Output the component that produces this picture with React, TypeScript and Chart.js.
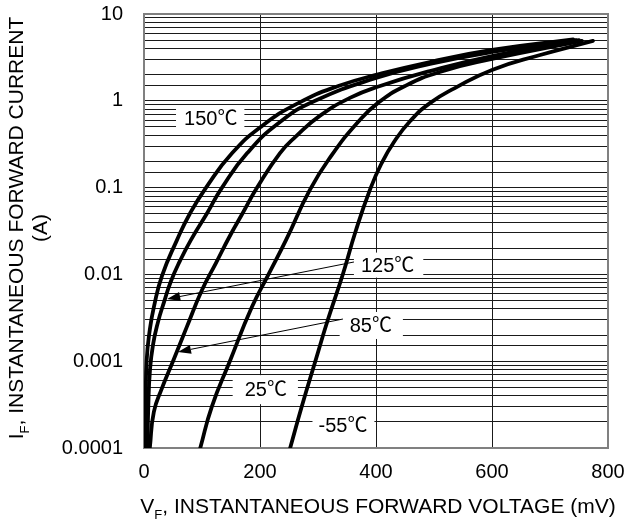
import React, { useEffect, useRef } from "react";
import { Chart, registerables } from "chart.js";

Chart.register(...registerables);

// ---- data (V in mV, I in A) ----
const v150 = [2, 3, 4.5, 10, 17, 31, 57, 79, 107, 152, 203, 266, 335, 407, 493, 600, 740];
const i150 = [0.0001, 0.0003, 0.001, 0.0023, 0.0042, 0.0096, 0.025, 0.05, 0.1, 0.25, 0.51, 0.94, 1.48, 2.04, 2.8, 3.85, 5.1];

const v125 = [6, 7.4, 10.3, 15.5, 24, 34.5, 46.6, 62, 81, 109, 134.5, 178, 234.5, 295, 400, 493, 600, 745];
const i125 = [0.0001, 0.0003, 0.00079, 0.00154, 0.0028, 0.0048, 0.0084, 0.0143, 0.025, 0.051, 0.1, 0.25, 0.57, 1.0, 1.83, 2.66, 3.65, 5.0];

const v85 = [10, 17, 31, 50, 74, 100, 124, 148, 171, 195, 234.5, 262, 303, 355, 407, 493, 600, 750];
const i85 = [0.0001, 0.00026, 0.00049, 0.001, 0.0025, 0.0066, 0.0135, 0.0277, 0.052, 0.1, 0.25, 0.39, 0.67, 1.08, 1.48, 2.2, 3.28, 5.0];

const v25 = [97, 117, 148, 186, 214, 245, 286, 324, 369, 403, 450, 510, 600, 755];
const i25 = [0.0001, 0.0003, 0.001, 0.0042, 0.0098, 0.025, 0.094, 0.238, 0.57, 0.94, 1.48, 2.15, 3.03, 4.9];

const vM55 = [252, 272, 295, 317, 343, 365, 390, 409, 431, 459, 493, 536, 600, 683, 774];
const iM55 = [0.0001, 0.0003, 0.00098, 0.003, 0.0101, 0.0316, 0.096, 0.187, 0.335, 0.585, 0.94, 1.4, 2.27, 3.37, 4.9];

const seriesNames = ["150℃", "125℃", "85℃", "25℃", "-55℃"];
const xTickValues = [0, 200, 400, 600, 800];
const yDecades = [0.0001, 0.001, 0.01, 0.1, 1, 10];

const FAMILY = "'Liberation Sans', Arial, 'Noto Sans CJK SC', sans-serif";

// label placements (data coordinates)
const labelSpecs = [
  { text: seriesNames[0], v: 115, i: 0.62, padL: 8, padR: 7, h: 26 },
  { text: seriesNames[1], v: 420, i: 0.0128, padL: 7, padR: 9, h: 25 },
  { text: seriesNames[2], v: 391, i: 0.00258, padL: 10, padR: 11, h: 27 },
  { text: seriesNames[3], v: 210, i: 0.00047, padL: 12, padR: 11, h: 29 },
  { text: seriesNames[4], v: 343, i: 0.000184, padL: 6, padR: 7, h: 30 },
];
const arrowSpecs = [
  { v0: 362, i0: 0.0139, v1: 40, i1: 0.0052 },
  { v0: 343, i0: 0.00306, v1: 58.6, i1: 0.00128 },
];

function pts(vs: number[], is: number[]) {
  return vs.map((v, k) => ({ x: v, y: is[k] }));
}

function drawSubText(
  ctx: CanvasRenderingContext2D,
  main: string,
  sub: string,
  rest: string,
  size: number
) {
  const big = `${size}px ${FAMILY}`;
  const small = `${Math.round(size * 0.62)}px ${FAMILY}`;
  ctx.font = big;
  const w1 = ctx.measureText(main).width;
  const w3 = ctx.measureText(rest).width;
  ctx.font = small;
  const w2 = ctx.measureText(sub).width;
  const total = w1 + w2 + w3;
  let x = -total / 2;
  ctx.textBaseline = "alphabetic";
  ctx.textAlign = "left";
  ctx.font = big;
  ctx.fillText(main, x, 0);
  x += w1;
  ctx.font = small;
  ctx.fillText(sub, x, size * 0.28);
  x += w2;
  ctx.font = big;
  ctx.fillText(rest, x, 0);
}

const decorPlugin = {
  id: "decor",
  beforeDatasetsDraw(chart: any) {
    const { ctx, chartArea: a, scales } = chart;
    const x = scales.x;
    const y = scales.y;
    ctx.save();
    ctx.strokeStyle = "#808080";
    ctx.lineWidth = 2;
    ctx.strokeRect(a.left, a.top, a.right - a.left, a.bottom - a.top);
    ctx.font = `20px ${FAMILY}`;
    ctx.fillStyle = "#ffffff";
    labelSpecs.forEach((l) => {
      const cx = x.getPixelForValue(l.v);
      const cy = y.getPixelForValue(l.i);
      const w = ctx.measureText(l.text).width;
      ctx.fillRect(cx - w / 2 - l.padL, cy - l.h / 2, w + l.padL + l.padR, l.h);
    });
    ctx.restore();
  },
  afterDatasetsDraw(chart: any) {
    const { ctx, scales } = chart;
    const x = scales.x;
    const y = scales.y;
    ctx.save();
    ctx.fillStyle = "#000";
    ctx.font = `20px ${FAMILY}`;
    ctx.textAlign = "center";
    ctx.textBaseline = "middle";
    labelSpecs.forEach((l) => {
      ctx.fillText(l.text, x.getPixelForValue(l.v), y.getPixelForValue(l.i) + 1);
    });
    ctx.strokeStyle = "#000";
    ctx.lineWidth = 1;
    arrowSpecs.forEach((s) => {
      const x0 = x.getPixelForValue(s.v0);
      const y0 = y.getPixelForValue(s.i0);
      const x1 = x.getPixelForValue(s.v1);
      const y1 = y.getPixelForValue(s.i1);
      const ang = Math.atan2(y1 - y0, x1 - x0);
      const len = 13;
      const hw = 4.5;
      const bx = x1 - Math.cos(ang) * len;
      const by = y1 - Math.sin(ang) * len;
      ctx.beginPath();
      ctx.moveTo(x0, y0);
      ctx.lineTo(bx, by);
      ctx.stroke();
      ctx.beginPath();
      ctx.moveTo(x1, y1);
      ctx.lineTo(bx - Math.sin(ang) * hw, by + Math.cos(ang) * hw);
      ctx.lineTo(bx + Math.sin(ang) * hw, by - Math.cos(ang) * hw);
      ctx.closePath();
      ctx.fill();
    });
    ctx.restore();
  },
  afterDraw(chart: any) {
    const { ctx, chartArea: a } = chart;
    ctx.save();
    ctx.fillStyle = "#000";
    // x title
    ctx.save();
    ctx.translate((a.left + a.right) / 2 + 2, 513);
    drawSubText(ctx, "V", "F", ", INSTANTANEOUS FORWARD VOLTAGE (mV)", 21);
    ctx.restore();
    // y title
    const cy = (a.top + a.bottom) / 2 - 3;
    ctx.save();
    ctx.translate(23, cy);
    ctx.rotate(-Math.PI / 2);
    drawSubText(ctx, "I", "F", ", INSTANTANEOUS FORWARD CURRENT", 21);
    ctx.restore();
    ctx.save();
    ctx.translate(47, cy);
    ctx.rotate(-Math.PI / 2);
    ctx.font = `21px ${FAMILY}`;
    ctx.textAlign = "center";
    ctx.textBaseline = "alphabetic";
    ctx.fillText("(A)", 0, 0);
    ctx.restore();
    ctx.restore();
  },
};

function fmtDecade(v: number): string {
  const e = Math.round(Math.log10(v));
  if (Math.abs(Math.log10(v) - e) > 1e-6) return "";
  const d = yDecades.find((t) => Math.abs(Math.log10(t) - e) < 1e-6);
  if (d === undefined) return "";
  return e >= 0 ? String(d) : d.toFixed(-e);
}

export default function App() {
  const ref = useRef<HTMLCanvasElement | null>(null);
  useEffect(() => {
    if (!ref.current) return;
    const lineStyle = {
      borderColor: "#000",
      borderWidth: 3.8,
      borderJoinStyle: "round" as const,
      borderCapStyle: "round" as const,
      pointRadius: 0,
      fill: false,
      tension: 0.5,
    };
    const chart = new Chart(ref.current, {
      type: "line",
      data: {
        datasets: [
          { label: seriesNames[0], data: pts(v150, i150), ...lineStyle },
          { label: seriesNames[1], data: pts(v125, i125), ...lineStyle },
          { label: seriesNames[2], data: pts(v85, i85), ...lineStyle },
          { label: seriesNames[3], data: pts(v25, i25), ...lineStyle },
          { label: seriesNames[4], data: pts(vM55, iM55), ...lineStyle },
        ],
      },
      options: {
        animation: false,
        responsive: false,
        devicePixelRatio: 1,
        layout: { padding: { left: 0, right: 19, top: 14, bottom: 0 } },
        plugins: { legend: { display: false }, tooltip: { enabled: false } },
        scales: {
          x: {
            type: "linear",
            min: 0,
            max: 800,
            afterBuildTicks: (s: any) => {
              s.ticks = xTickValues.map((v) => ({ value: v }));
            },
            afterFit: (s: any) => {
              s.height = 81;
              s.paddingLeft = 0;
              s.paddingRight = 0;
            },
            ticks: {
              color: "#000",
              padding: 12,
              font: { family: FAMILY, size: 20 },
            },
            grid: { color: "#1a1a1a", lineWidth: 1, drawTicks: false },
            border: { display: false },
          },
          y: {
            type: "logarithmic",
            min: 0.0001,
            max: 10,
            afterFit: (s: any) => {
              s.width = 144;
              s.paddingTop = 0;
              s.paddingBottom = 0;
            },
            ticks: {
              autoSkip: false,
              color: "#000",
              padding: 21,
              font: { family: FAMILY, size: 20 },
              callback: (v: any) => fmtDecade(Number(v)),
            },
            grid: { color: "#1a1a1a", lineWidth: 1, drawTicks: false },
            border: { display: false },
          },
        },
      },
      plugins: [decorPlugin],
    });
    return () => chart.destroy();
  }, []);
  return (
    <div style={{ position: "absolute", left: 0, top: 0, width: 627, height: 529, background: "#fff" }}>
      <canvas ref={ref} width={627} height={529} />
    </div>
  );
}
